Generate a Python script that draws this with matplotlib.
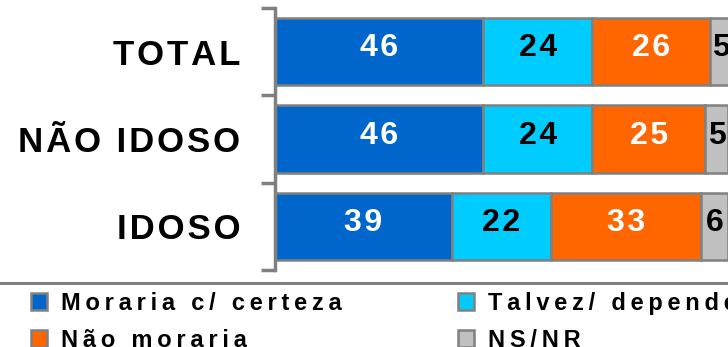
import matplotlib
matplotlib.use("Agg")
import matplotlib.pyplot as plt
from matplotlib.lines import Line2D
from matplotlib.patches import Patch

# Data
categories = ["TOTAL", "NÃO IDOSO", "IDOSO"]
series_names = ["Moraria c/ certeza", "Talvez/ depende", "Não moraria", "NS/NR"]
moraria = [46, 46, 39]
talvez = [24, 24, 22]
nao_moraria = [26, 25, 33]
ns_nr = [5, 5, 6]

# Styles
COLORS = ["#0066CC", "#00CCFF", "#FF6600", "#C0C0C0"]
TEXT_COLORS = ["white", "black", "white", "black"]
EDGE = "#808080"
FONT = ["Liberation Sans", "DejaVu Sans"]
HAIR = "\u200a"
THIN = "\u2009"

plt.rcParams["font.family"] = FONT


def spaced(s, gap=HAIR):
    # imitate the wide letter spacing of the original
    return gap.join(list(s))


fig = plt.figure(figsize=(7.28, 3.47), dpi=100)
ax = fig.add_axes([275 / 728, 1 - 270 / 347, 1 - 275 / 728, 262 / 347])

series = [moraria, talvez, nao_moraria, ns_nr]
y = list(range(len(categories)))
left = [0] * len(categories)
handles = []
for vals, name, col, tcol in zip(series, series_names, COLORS, TEXT_COLORS):
    bars = ax.barh(y, vals, left=left, height=0.77, color=col,
                   edgecolor=EDGE, linewidth=1.8, label=name)
    for b, v in zip(bars, vals):
        ax.text(b.get_x() + b.get_width() / 2, b.get_y() + b.get_height() / 2 - 0.04,
                spaced(str(v)), ha="center", va="center", color=tcol,
                fontsize=23, fontweight="bold", clip_on=False)
    left = [l + v for l, v in zip(left, vals)]
    handles.append(Patch(facecolor=col, edgecolor=EDGE, linewidth=1.8))

ax.set_xlim(0, 100)
ax.set_ylim(2.5, -0.5)

# category labels, tick marks between categories
ax.set_yticks(y)
ax.set_yticklabels([spaced(c) for c in categories], fontsize=25, fontweight="bold")
ax.tick_params(axis="y", which="major", length=0, pad=25)
ax.set_yticks([-0.5, 0.5, 1.5, 2.5], minor=True)
ax.tick_params(axis="y", which="minor", length=10, width=2.5, color=EDGE)
ax.set_xticks([])

for s in ["top", "right", "bottom"]:
    ax.spines[s].set_visible(False)
ax.spines["left"].set_color(EDGE)
ax.spines["left"].set_linewidth(2.5)

# separator line above legend
fig.add_artist(Line2D([0, 1], [1 - 283 / 347] * 2, transform=fig.transFigure,
                      color=EDGE, linewidth=2.2))

# legend fills column-wise: reorder so rows read as in the original
order = [0, 2, 1, 3]
leg = fig.legend([handles[i] for i in order],
                 [spaced(series_names[i], THIN) for i in order], ncol=2,
                 loc="upper left", bbox_to_anchor=(31 / 728, 1 - 292 / 347),
                 frameon=False, handlelength=0.68, handleheight=0.7,
                 handletextpad=0.6, columnspacing=4.9, labelspacing=0.58,
                 borderpad=0, borderaxespad=0,
                 prop={"family": FONT, "size": 17, "weight": "bold"})

fig.savefig("out.png", dpi=100)
